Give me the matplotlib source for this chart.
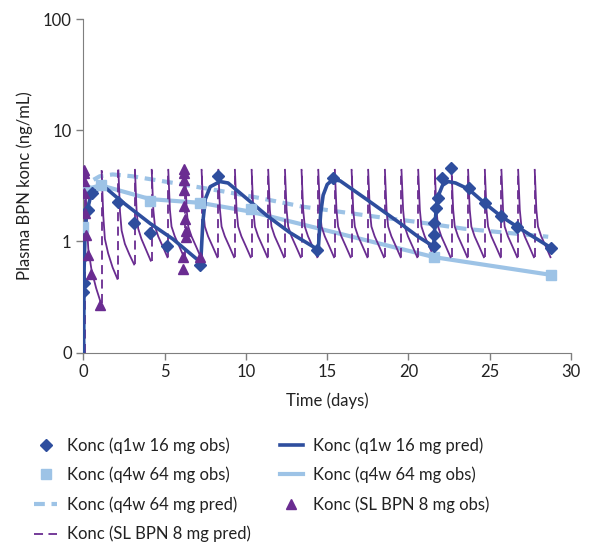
import numpy as np
import matplotlib.pyplot as plt
from matplotlib.lines import Line2D

plt.rcParams['font.family'] = ['Lato', 'DejaVu Sans']

DARK = '#2E4E9E'
LIGHT = '#9DC3E6'
PURPLE = '#6A2C91'

# q1w 16 mg
q1w_obs_t = [0.0, 0.05, 0.0, 0.3, 0.5, 2.15, 3.1, 4.1, 5.15, 7.2, 8.3, 14.4, 15.35,
             21.6, 21.55, 21.6, 21.7, 21.8, 22.05, 22.6, 23.7, 24.7, 25.7, 26.7, 28.8]
q1w_obs_c = [0.35, 0.42, 0.73, 1.9, 2.7, 2.25, 1.47, 1.19, 0.90, 0.61, 3.85, 0.84, 3.72,
             0.90, 1.15, 1.46, 2.0, 2.46, 3.72, 4.6, 3.03, 2.22, 1.68, 1.35, 0.87]
q1w_pred_t = [0, 0.03, 0.1, 0.2, 0.4, 0.7, 1.0, 1.4, 2.25, 4.1, 5.5, 7.2,
              7.25, 7.35, 7.5, 7.8, 8.4, 8.9, 9.8, 11.3, 12.7, 14.45,
              14.5, 14.6, 14.75, 15.0, 15.35, 15.8, 17.4, 19.5, 20.6, 21.55,
              21.6, 21.7, 21.85, 22.1, 22.45, 22.9, 23.7, 24.7, 25.7, 26.7, 28.8]
q1w_pred_c = [0.1, 0.5, 1.2, 1.8, 2.4, 2.8, 3.0, 3.0, 2.35, 1.45, 1.05, 0.65,
              0.8, 1.5, 2.4, 3.1, 3.45, 3.35, 2.6, 1.7, 1.2, 0.84,
              1.1, 1.8, 2.6, 3.25, 3.6, 3.5, 2.4, 1.45, 1.1, 0.9,
              1.2, 1.9, 2.6, 3.2, 3.45, 3.35, 2.95, 2.2, 1.68, 1.35, 0.87]

# q4w 64 mg
q4w_obs_t = [0.0, 0.05, 1.05, 4.1, 7.2, 10.3, 21.6, 28.75]
q4w_obs_c = [1.35, 2.9, 3.2, 2.3, 2.22, 1.95, 0.72, 0.50]
q4w_line_t = [0.0, 0.0, 0.05, 1.05, 4.1, 7.2, 10.3, 21.6, 28.75]
q4w_line_c = [0.1, 1.35, 2.9, 3.2, 2.4, 2.22, 1.85, 0.72, 0.50]
q4w_pred_t = [0.0, 0.05, 0.2, 0.5, 1.0, 1.8, 3.0, 5.3, 8.4, 10.8, 13.5, 18.2, 20.3, 23.4, 28.6]
q4w_pred_c = [0.1, 1.5, 2.8, 3.5, 3.85, 4.0, 3.85, 3.4, 2.85, 2.46, 2.05, 1.65, 1.51, 1.3, 1.1]

# SL BPN 8 mg daily
sl_dose = [0.1, 1.12, 2.15, 3.17, 4.2, 5.22, 6.25, 7.27, 8.3, 9.32, 10.35, 11.37, 12.4, 13.42,
           14.45, 15.47, 16.5, 17.52, 18.55, 19.57, 20.6, 21.62, 22.65, 23.67, 24.7, 25.72,
           26.75, 27.77]
sl_off = [0.0, 0.1, 0.2, 0.4, 0.68, 0.97]
sl_early = [[4.3, 1.5, 0.85, 0.55, 0.38, 0.28],
            [4.3, 1.7, 1.05, 0.78, 0.58, 0.46],
            [4.35, 1.85, 1.25, 0.95, 0.76, 0.62],
            [4.4, 1.9, 1.3, 1.05, 0.84, 0.67]]
sl_ss = [4.4, 1.93, 1.36, 1.11, 0.90, 0.72]
sl_obs_t = [0.03, 0.03, 0.03, 0.03, 0.1, 0.18, 0.28, 0.45, 1.02,
            6.2, 6.2, 6.2, 6.2, 6.2, 6.25, 6.3, 6.3, 6.15, 6.15, 7.2]
sl_obs_c = [4.4, 4.1, 3.5, 2.7, 1.8, 1.15, 0.75, 0.51, 0.27,
            4.5, 4.1, 3.6, 2.9, 2.1, 1.6, 1.25, 1.1, 0.73, 0.56, 0.73]

fig = plt.figure(figsize=(5.96, 5.44), dpi=100)
ax = fig.add_axes([0.140, 0.352, 0.818, 0.613])

ax.plot(q4w_line_t, q4w_line_c, color=LIGHT, lw=3, zorder=2)
ax.plot(q4w_pred_t, q4w_pred_c, color=LIGHT, lw=3, dashes=(2.6, 1.6), zorder=2)

# SL sawtooth: dashed rise at each dose, solid decay after it
rise_x, rise_y, dec_x, dec_y = [], [], [], []
prev = 0.1
for i, d in enumerate(sl_dose):
    prof = sl_early[i] if i < len(sl_early) else sl_ss
    rise_x += [d, d, np.nan]
    rise_y += [prev, prof[0], np.nan]
    dec_x += [d + o for o in sl_off] + [np.nan]
    dec_y += prof + [np.nan]
    prev = prof[-1]
ax.plot(rise_x, rise_y, color=PURPLE, lw=1.3, dashes=(5, 3), zorder=3)
ax.plot(dec_x, dec_y, color=PURPLE, lw=1.3, zorder=3)

ax.plot(q1w_pred_t, q1w_pred_c, color=DARK, lw=2.6, zorder=4)
ax.plot(q4w_obs_t, q4w_obs_c, 's', color=LIGHT, ms=6.5, zorder=5)
ax.plot(q1w_obs_t, q1w_obs_c, 'D', color=DARK, ms=6.5, zorder=6)
ax.plot(sl_obs_t, sl_obs_c, '^', color=PURPLE, ms=7.5, zorder=6)

ax.set_yscale('log')
ax.set_ylim(0.1, 100)
ax.set_xlim(0, 30)
ax.set_yticks([0.1, 1, 10, 100])
ax.set_yticklabels(['0', '1', '10', '100'])
ax.yaxis.set_minor_locator(plt.NullLocator())
ax.set_xticks(range(0, 31, 5))
for s in ['top', 'right']:
    ax.spines[s].set_visible(False)
for s in ['left', 'bottom']:
    ax.spines[s].set_color('#7f7f7f')
ax.tick_params(colors='#7f7f7f', labelcolor='#222222', labelsize=12, length=5, width=1)
ax.set_xlabel('Time (days)', fontsize=12, color='#222222', labelpad=9)
ax.set_ylabel('Plasma BPN konc (ng/mL)', fontsize=12, color='#222222', labelpad=7)

h = {
    'q1w_obs': Line2D([], [], ls='none', marker='D', color=DARK, ms=6.5),
    'q1w_pred': Line2D([], [], color=DARK, lw=2.6),
    'q4w_obs': Line2D([], [], ls='none', marker='s', color=LIGHT, ms=6.5),
    'q4w_line': Line2D([], [], color=LIGHT, lw=3),
    'q4w_pred': Line2D([], [], color=LIGHT, lw=3, dashes=(2.6, 1.6)),
    'sl_obs': Line2D([], [], ls='none', marker='^', color=PURPLE, ms=7.5),
    'sl_pred': Line2D([], [], color=PURPLE, lw=1.3, dashes=(5, 3)),
}
order = [('q1w_obs', 'Konc (q1w 16 mg obs)'), ('q4w_obs', 'Konc (q4w 64 mg obs)'),
         ('q4w_pred', 'Konc (q4w 64 mg pred)'), ('sl_pred', 'Konc (SL BPN 8 mg pred)'),
         ('q1w_pred', 'Konc (q1w 16 mg pred)'), ('q4w_line', 'Konc (q4w 64 mg obs)'),
         ('sl_obs', 'Konc (SL BPN 8 mg obs)')]
fig.legend([h[k] for k, _ in order], [t for _, t in order], ncol=2,
           loc='upper left', bbox_to_anchor=(0.032, 0.224), frameon=False,
           fontsize=12, handlelength=1.4, handletextpad=0.6, columnspacing=1.7,
           labelspacing=0.78, labelcolor='#222222')

fig.savefig('out.png', dpi=100)
